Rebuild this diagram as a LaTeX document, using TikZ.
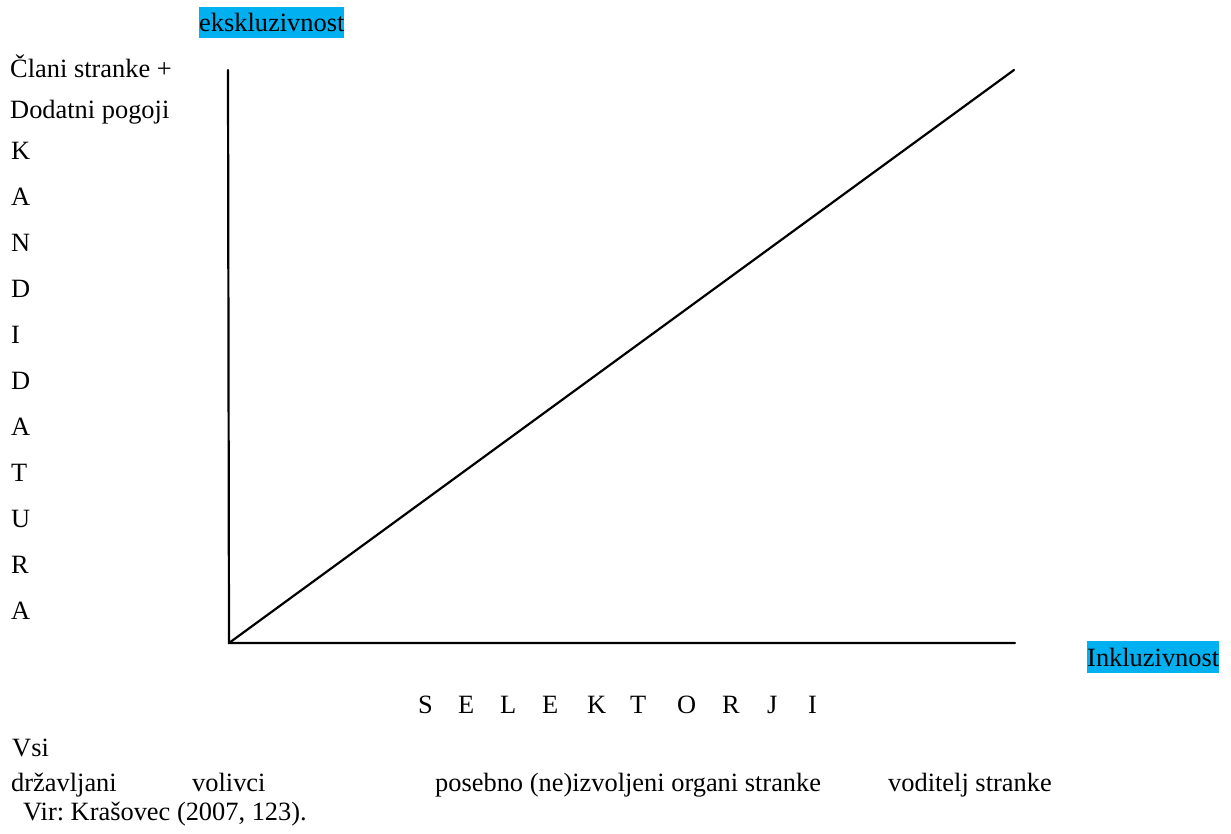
\documentclass[tikz,border=0pt]{standalone}
\usepackage{fontspec}
\setmainfont{Liberation Serif}
\definecolor{hl}{HTML}{00B0F0}
\frenchspacing
\begin{document}
\begin{tikzpicture}[x=1pt,y=-1pt,
  lbl/.style={anchor=base west,inner sep=0pt,font=\fontsize{26.4}{30}\selectfont},
  hlbox/.style={lbl,fill=hl,text height=25pt,text depth=6.5pt},
  axis/.style={line width=2.2pt,line cap=round}]
\useasboundingbox (0,0) rectangle (1231,834);
% axes
\coordinate (O) at (229,643);
\coordinate (T) at (228,70);
\coordinate (R) at (1015,643);
\coordinate (D) at (1014,70);
\draw[axis] (T) -- (O) -- (R);
\draw[axis] (O) -- (D);
% highlighted labels
\node[hlbox] (eks) at (199,32) {ekskluzivnost};
\node[hlbox] (ink) at (1087,666) {Inkluzivnost};
% left labels
\node[lbl] (clani) at (10,78) {Člani stranke +};
\node[lbl] (dod) at (10,119) {Dodatni pogoji};
\foreach \L [count=\i from 0] in {K,A,N,D,I,D,A,T,U,R,A}
  \node[lbl] (k\i) at (11,160+45.9*\i) {\L};
% selektorji
\foreach \L/\x [count=\i] in {S/418,E/458,L/500,E/542,K/587,T/630,O/677,R/722,J/767,I/808}
  \node[lbl] (s\i) at (\x,713) {\L};
% bottom
\node[lbl] (vsi) at (12,756) {Vsi};
\node[lbl] (drz) at (11,791) {državljani};
\node[lbl] (vol) at (192,791) {volivci};
\node[lbl] (pos) at (435,791) {posebno (ne)izvoljeni organi stranke};
\node[lbl] (vod) at (888,791) {voditelj stranke};
\node[lbl] (vir) at (23,820) {Vir: Krašovec (2007, 123).};
\end{tikzpicture}
\end{document}
